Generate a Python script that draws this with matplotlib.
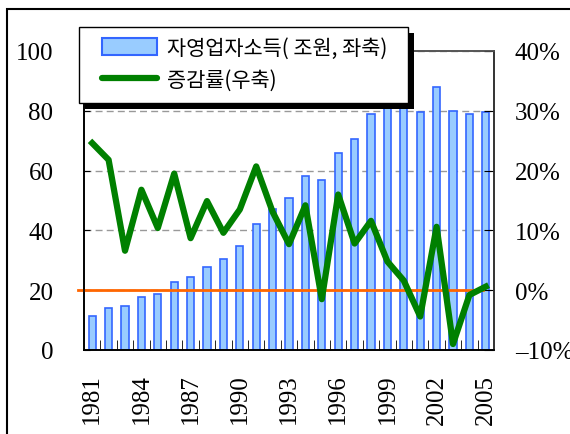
import numpy as np
import matplotlib
matplotlib.use('Agg')
import matplotlib.pyplot as plt
from matplotlib.patches import Rectangle
from matplotlib.lines import Line2D

# data
years = list(range(1981, 2006))
income = [11.4, 14.2, 14.8, 17.7, 18.8, 22.6, 24.3, 27.8, 30.6, 34.9,
          42.3, 47.3, 50.8, 58.1, 56.9, 65.9, 70.6, 78.9, 82.7, 84.0,
          79.6, 87.9, 80.1, 78.9, 79.6]
growth = [24.6, 21.8, 6.6, 16.8, 10.4, 19.5, 8.7, 14.9, 9.6, 13.5,
          20.7, 13.1, 7.7, 14.2, -1.5, 16.0, 7.8, 11.6, 4.8, 1.6,
          -4.4, 10.6, -9.0, -0.8, 0.6]
left_ticks = [0, 20, 40, 60, 80, 100]
right_ticks = [-10, 0, 10, 20, 30, 40]
right_labels = ['\u201310%', '0%', '10%', '20%', '30%', '40%']
label_income = '자영업자소득( 조원, 좌축)'
label_growth = '증감률(우축)'

num_font = 'Liberation Serif'
kr_font = ['Noto Sans CJK KR', 'DejaVu Sans']

W, H = 570, 435
fig = plt.figure(figsize=(W / 100, H / 100), dpi=100)
ax1 = fig.add_axes([84 / W, 1 - 351 / H, 410 / W, 299 / H])
ax2 = ax1.twinx()

x = np.arange(len(years))

# bars, left axis
ax1.bar(x, income, width=0.45, color='#99CCFF', edgecolor='#3366FF',
        linewidth=1.2, zorder=2)
ax1.set_xlim(-0.5, len(years) - 0.5)
ax1.set_ylim(0, 100)
ax1.set_yticks(left_ticks)
ax1.set_yticklabels([str(v) for v in left_ticks], fontfamily=num_font,
                    fontsize=18)
ax1.tick_params(axis='y', direction='in', length=4, pad=22)
ax1.set_axisbelow(True)
ax1.grid(axis='y', color='#999999', linestyle=(0, (5, 3)), linewidth=1)

# x ticks: labels every 3 years, tick marks between bars
ax1.set_xticks(x[::3])
ax1.set_xticklabels([str(years[i]) for i in x[::3]], rotation=90,
                    fontfamily=num_font, fontsize=18)
ax1.set_xticks(np.arange(0.5, len(years) - 1, 1), minor=True)
ax1.tick_params(axis='x', which='major', length=0, pad=17)
ax1.tick_params(axis='x', which='minor', direction='in', length=7)

# growth line, right axis
ax2.set_ylim(-10, 40)
ax2.set_yticks(right_ticks)
ax2.set_yticklabels(right_labels, fontfamily=num_font, fontsize=18)
ax2.tick_params(axis='y', direction='in', length=7, pad=15)
ax2.plot([-0.87, 23.8], [0, 0], color='#FF6600', linewidth=2,
         clip_on=False, zorder=2)
ax2.plot(x, growth, color='#008000', linewidth=4.5, zorder=3,
         solid_joinstyle='round')

for ax in (ax1, ax2):
    ax.spines['left'].set_color('black')
    ax.spines['bottom'].set_color('black')
    ax.spines['right'].set_color('#333333')
    ax.spines['top'].set_color('#555555')
    for s in ax.spines.values():
        s.set_linewidth(1.2)

# legend (frame drawn by hand so the box can match the reference)
handles = [Rectangle((0, 0), 1, 1, facecolor='#99CCFF', edgecolor='#3366FF',
                     linewidth=1.5),
           Line2D([], [], color='#008000', linewidth=4.5,
                  solid_capstyle='round')]
anchor = (102 / W, 1 - 36 / H)
leg = ax2.legend(handles, [label_income, label_growth],
                 loc='upper left', bbox_to_anchor=anchor,
                 bbox_transform=fig.transFigure,
                 prop={'family': kr_font, 'size': 15},
                 frameon=False, borderpad=0, borderaxespad=0,
                 handlelength=2.64, handleheight=0.87, handletextpad=0.5,
                 labelspacing=0.5)
leg.set_zorder(6)

# nudge legend so the blue patch sits where it does in the reference
fig.canvas.draw()
hb = leg.legend_handles[0].get_window_extent()
dx = 102 - hb.x0
dy = (H - 39) - hb.y1
leg.set_bbox_to_anchor((anchor[0] + dx / W, anchor[1] + dy / H),
                       transform=fig.transFigure)

# legend box with black drop shadow
bx0, by0, bx1, by1 = 79, 28, 408, 104
ax2.add_patch(Rectangle((bx0 + 6, H - by1 - 6), bx1 - bx0, by1 - by0,
                        transform=None, facecolor='black', edgecolor='none',
                        zorder=4.5, clip_on=False))
ax2.add_patch(Rectangle((bx0, H - by1), bx1 - bx0, by1 - by0,
                        transform=None, facecolor='white', edgecolor='black',
                        linewidth=1.0, zorder=4.6, clip_on=False))

# outer frame
fig.patches.append(Rectangle((7 / W, -0.5), 2, 0.5 + 1 - 9.5 / H,
                             transform=fig.transFigure, fill=False,
                             edgecolor='black', linewidth=1.5))

fig.savefig('out.png', dpi=100)
